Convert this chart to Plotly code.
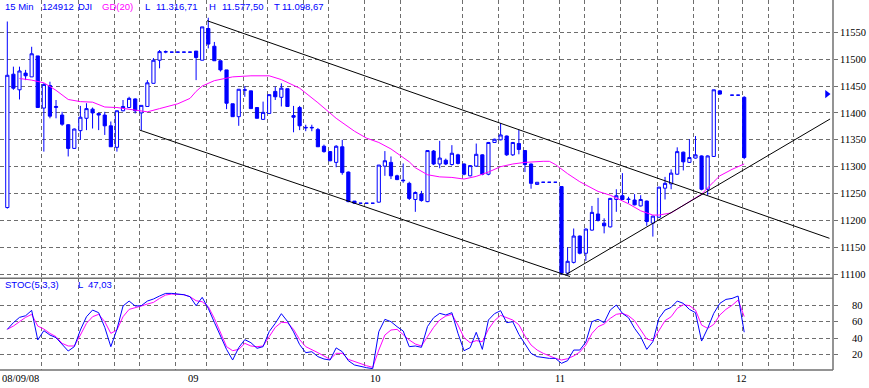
import plotly.graph_objects as go

# ---------------- data ----------------
bar_idx = list(range(0, 118)) + [119, 120, 121]

opens = [11224,11472,11443,11474,11467,11506,11409,11451,11410,11396,
         11378,11334,11367,11390,11407,11399,11396,11376,11336,11404,
         11410,11426,11400,11412,11455,11498,11513,11513,11513,11513,
         11513,11515,11498,11557,11524,11497,11480,11417,11393,11442,
         11441,11410,11388,11399,11440,11429,11445,11395,11410,11372,
         11372,11369,11338,11328,11308,11337,11290,11236,11232,11232,
         11232,11234,11301,11308,11283,11275,11269,11239,11249,11235,
         11329,11305,11312,11304,11322,11305,11283,11301,11322,11286,
         11345,11350,11357,11322,11343,11330,11305,11267,11271,11271,
         11271,11263,11102,11122,11171,11139,11182,11212,11195,11188,
         11239,11246,11240,11238,11227,11236,11195,11206,11260,11268,
         11286,11327,11308,11316,11320,11258,11319,11441,
         11433,11433,11429]
highs = [11570,11486,11486,11480,11523,11506,11455,11458,11424,11402,
         11379,11371,11413,11418,11410,11400,11402,11384,11404,11424,
         11430,11427,11414,11461,11502,11517,11516,11513,11513,11513,
         11513,11515,11560,11577,11532,11497,11480,11417,11444,11450,
         11441,11410,11421,11434,11449,11455,11445,11413,11413,11378,
         11378,11372,11341,11329,11340,11350,11291,11236,11232,11232,
         11232,11303,11329,11319,11285,11306,11272,11254,11255,11330,
         11331,11348,11315,11340,11324,11306,11303,11343,11323,11346,
         11352,11381,11358,11346,11369,11331,11306,11271,11271,11271,
         11271,11263,11150,11185,11172,11185,11227,11242,11204,11242,
         11258,11288,11244,11249,11247,11237,11209,11262,11281,11295,
         11336,11328,11351,11357,11321,11321,11443,11442,
         11433,11433,11431]
lows = [11222,11443,11425,11461,11467,11410,11328,11390,11390,11376,
        11319,11333,11350,11368,11371,11368,11359,11337,11328,11403,
        11410,11399,11368,11412,11455,11483,11511,11513,11513,11513,
        11513,11461,11498,11520,11497,11477,11407,11393,11376,11430,
        11408,11390,11387,11399,11424,11412,11412,11364,11368,11366,
        11366,11337,11326,11310,11299,11285,11234,11231,11232,11232,
        11232,11233,11283,11277,11275,11270,11238,11216,11235,11234,
        11303,11297,11303,11302,11304,11284,11282,11300,11284,11284,
        11345,11349,11320,11320,11323,11290,11259,11267,11271,11271,
        11271,11099,11099,11120,11137,11125,11181,11198,11176,11187,
        11216,11238,11232,11228,11226,11190,11170,11205,11239,11258,
        11285,11293,11307,11315,11256,11247,11318,11434,
        11433,11433,11314]
closes = [11470,11446,11478,11469,11510,11410,11453,11394,11412,11379,
          11334,11370,11392,11408,11400,11396,11376,11337,11404,11412,
          11427,11404,11414,11456,11498,11514,11514,11513,11513,11513,
          11513,11503,11560,11528,11497,11480,11418,11393,11444,11443,
          11408,11390,11401,11434,11430,11446,11412,11392,11376,11373,
          11373,11337,11328,11311,11338,11289,11235,11232,11232,11232,
          11232,11303,11311,11283,11276,11274,11241,11252,11237,11330,
          11305,11316,11305,11325,11306,11286,11302,11323,11286,11345,
          11351,11359,11322,11345,11332,11304,11269,11271,11271,11271,
          11271,11102,11124,11171,11139,11184,11215,11200,11190,11241,
          11246,11239,11239,11229,11239,11198,11208,11262,11269,11288,
          11328,11309,11317,11322,11258,11320,11443,11435,
          11433,11433,11317]

# moving average GD(20), read at selected bars
ma_idx = [2,4,6,8,10,12,14,16,18,20,23,25,28,30,31,32,34,37,40,43,45,48,51,54,57,59,
          61,63,64,66,67,69,71,73,75,77,79,81,83,85,88,89,90,92,94,96,97,99,102,
          104,106,107,109,110,112,114,116,117,119,121]
ma_val = [11464,11461,11456,11442,11425,11421,11420,11411,11410,11407,11402,11408,
          11417,11427,11440,11450,11460,11467,11469,11469,11462,11446,11419,11390,11366,
          11353,11345,11333,11325,11309,11298,11285,11281,11280,11277,11282,11290,
          11300,11305,11308,11310,11310,11304,11287,11272,11261,11254,11247,11231,
          11218,11210,11210,11214,11221,11235,11249,11272,11283,11295,11305]

# stochastic (5,3,3)
stoch_idx = list(range(0, 122))
stoch_k = [50.5,58.6,65,67,73.5,37.6,48.9,43.6,40.4,32.7,
           24.2,29.5,49.7,65.8,73.9,70.7,52.9,29.5,50.5,78.8,
           84.8,78.8,79.2,84.8,87.3,90.9,94.1,94.1,93.7,92.5,
           90.1,79.2,89.3,75.9,59,42.8,26.2,13.3,28.3,38,
           34.3,27.5,29.5,47.7,57.8,69.5,60.2,47.5,32,22.2,
           23.4,17.4,14.5,13.3,28,23.4,12.5,7.3,5.2,4,
           2.8,47.7,62.6,59.8,53.7,48.5,29.5,30.3,28.7,54,
           64.6,69.9,67.9,70.7,45.6,24.6,28.3,46.9,26.2,61.8,
           69.5,73.1,58.6,59.8,44.4,33.5,21.4,17.4,16.1,15.3,
           15.3,9.3,12.5,25.4,25.4,35.1,59.8,62.6,58.6,73.9,
           80,69.9,64.6,51.7,41.6,26.2,35.5,63.8,73.9,77.2,
           84.8,82,74.7,70.7,36.3,51.7,69.9,82,86.8,88,
           90.9,47.03]
stoch_d = [50.5,54.5,59.8,65,68.7,54.5,50.9,45.6,41.6,33.5,
           30.3,30.3,43.6,57.8,65.8,68.7,59.8,45.6,49.7,65.8,
           74.7,77.2,78.8,81.2,83.2,88,92.1,93.3,93.3,92.5,
           90.1,85.2,84,78,63.8,45.6,29.5,24.6,26.2,33.5,
           30.3,29.5,30.3,41.6,52.9,59,58.6,50.5,38,29.5,
           26.2,22.2,18.2,14.1,21.4,21.4,14.1,11.3,9.3,6.4,
           4.4,25.4,43.6,49.7,50.5,44.4,37.6,32.7,30.3,41.6,
           52.9,61.8,66.6,68.7,55.7,40.4,34.3,36.8,35.5,50.5,
           61,67.5,65,61.8,56.1,42.4,31.5,25.4,21.4,18.2,
           15.3,13.3,14.9,18.2,23,31.5,45.6,53.7,57,63.8,
           68.7,69.9,67,61,50.5,38.8,36.8,49.7,61,65.8,
           75.9,80.4,79.2,73.9,55.7,51.7,56.5,67.9,74.7,79.6,
           86,66]

# trend lines drawn on the chart: (bar0, price0, bar1, price1)
trend_lines = [(32.8, 11571.5, 135.0, 11166.8),
               (21.7, 11368.2, 92.4, 11095.7),
               (91.6, 11098.5, 135.1, 11388.7)]

# time grid positions (bar units) and day labels
grid_pos = [5.65, 11.66, 17.68, 21.67, 27.65, 32.74, 38.75, 42.76, 48.6, 52.8, 58.6,
            64.6, 74.7, 80.6, 84.7, 90.6, 94.7, 100.7, 106.7, 112.6, 116.7, 120.75,
            124.96, 129.06]
day_labels = ["08/09/08", "09", "10", "11", "12"]
day_pos = [-1.2, 30.5, 60.5, 90.7, 120.6]

price_ticks = [11100, 11150, 11200, 11250, 11300, 11350, 11400, 11450, 11500, 11550]
stoch_ticks = [20, 40, 60, 80]

marker_bar = 134.6
marker_price = 11435

header = [("15 Min", 3, "#0000FF"), ("124912", 40, "#0000FF"), ("DJI", 76, "#0000FF"),
          ("GD(20)", 100, "#FF00FF"), ("L", 143, "#0000FF"), ("11.316,71", 154, "#0000FF"),
          ("H", 207, "#0000FF"), ("11.577,50", 220, "#0000FF"), ("T", 272, "#0000FF"),
          ("11.098,67", 280, "#0000FF")]
stoch_header = [("STOC(5,3,3)", 3), ("L", 76), ("47,03", 86)]

# ---------------- figure ----------------
BLUE = "#0000FF"
MAG = "#FF00FF"
GRID = "#6e6e6e"
W, H = 869, 388
PW, PH = 833, 370
split = 1 - 278.3 / PH

fig = go.Figure()
fig.add_trace(go.Candlestick(
    x=bar_idx, open=opens, high=highs, low=lows, close=closes,
    increasing=dict(line=dict(color=BLUE, width=1), fillcolor="white"),
    decreasing=dict(line=dict(color=BLUE, width=1), fillcolor=BLUE),
    whiskerwidth=0, xaxis="x", yaxis="y", hoverinfo="skip"))
fig.add_trace(go.Scatter(x=ma_idx, y=ma_val, mode="lines",
                         line=dict(color=MAG, width=1), xaxis="x", yaxis="y", hoverinfo="skip"))
fig.add_trace(go.Scatter(x=[marker_bar], y=[marker_price], mode="markers",
                         marker=dict(symbol="triangle-right", size=7, color=BLUE),
                         xaxis="x", yaxis="y", hoverinfo="skip", cliponaxis=False))
fig.add_trace(go.Scatter(x=stoch_idx, y=stoch_d, mode="lines",
                         line=dict(color=MAG, width=1), xaxis="x2", yaxis="y2", hoverinfo="skip"))
fig.add_trace(go.Scatter(x=stoch_idx, y=stoch_k, mode="lines",
                         line=dict(color=BLUE, width=1), xaxis="x2", yaxis="y2", hoverinfo="skip"))

xr = [-1.2, 135.58]
xcommon = dict(range=xr, tickvals=grid_pos, showticklabels=False, ticks="",
               showgrid=True, gridcolor=GRID, gridwidth=1, griddash="4px,3px",
               zeroline=False, showline=False, fixedrange=True)

shapes = []
for x0, y0, x1, y1 in trend_lines:
    shapes.append(dict(type="line", xref="x", yref="y", x0=x0, y0=y0, x1=x1, y1=y1,
                       line=dict(color="black", width=1)))
for yy in (0, split):
    shapes.append(dict(type="line", xref="paper", yref="paper", x0=0, x1=1, y0=yy, y1=yy,
                       line=dict(color="#707070", width=1.5)))
shapes.append(dict(type="line", xref="paper", yref="paper", x0=1, x1=1, y0=0, y1=1.0 + 18 / PH,
                   line=dict(color="#707070", width=1.5)))

annotations = []
for txt, px, col in header:
    annotations.append(dict(text=txt, xref="paper", yref="paper", x=px / PW, y=1 - 6.5 / PH,
                            xanchor="left", yanchor="middle", showarrow=False,
                            font=dict(family="Liberation Sans", size=9.5, color=col)))
for txt, px in stoch_header:
    annotations.append(dict(text=txt, xref="paper", yref="paper", x=px / PW, y=1 - 284.5 / PH,
                            xanchor="left", yanchor="middle", showarrow=False,
                            font=dict(family="Liberation Sans", size=9.5, color=BLUE)))
for lab, pos in zip(day_labels, day_pos):
    annotations.append(dict(text=lab, xref="x", yref="paper", x=pos, y=-8.5 / PH,
                            xanchor="left" if pos < 0 else "center", yanchor="middle",
                            showarrow=False,
                            font=dict(family="Liberation Serif", size=10.5, color="black")))
for t in stoch_ticks:
    annotations.append(dict(text=str(t), xref="paper", yref="y2", x=1, y=t, xshift=32,
                            xanchor="right", yanchor="middle", showarrow=False,
                            font=dict(family="Liberation Serif", size=10.5, color="black")))

fig.update_layout(
    width=W, height=H, margin=dict(l=0, r=W - PW, t=0, b=H - PH),
    paper_bgcolor="white", plot_bgcolor="white", showlegend=False,
    xaxis=dict(domain=[0, 1], anchor="y", rangeslider=dict(visible=False), **xcommon),
    xaxis2=dict(domain=[0, 1], anchor="y2", matches="x", **xcommon),
    yaxis=dict(domain=[split, 1], range=[11092.4, 11610], side="right", anchor="x",
               tickvals=price_ticks, ticktext=[str(v) for v in price_ticks],
               ticks="outside", ticklen=4, tickcolor="#707070",
               tickfont=dict(family="Liberation Serif", size=10.5, color="black"),
               showgrid=True, gridcolor=GRID, gridwidth=1, griddash="4px,3px",
               zeroline=False, showline=False, fixedrange=True),
    yaxis2=dict(domain=[0, split], range=[1.2, 112.4], side="right", anchor="x2",
                tickvals=stoch_ticks, showticklabels=False,
                ticks="outside", ticklen=4, tickcolor="#707070",
                showgrid=True, gridcolor=GRID, gridwidth=1, griddash="4px,3px",
                zeroline=False, showline=False, fixedrange=True),
    boxgap=0.25,
    shapes=shapes, annotations=annotations,
)

fig.write_html("out.html", config={"displayModeBar": False},
               post_script="document.body.style.margin='0';document.body.style.overflow='hidden';")
